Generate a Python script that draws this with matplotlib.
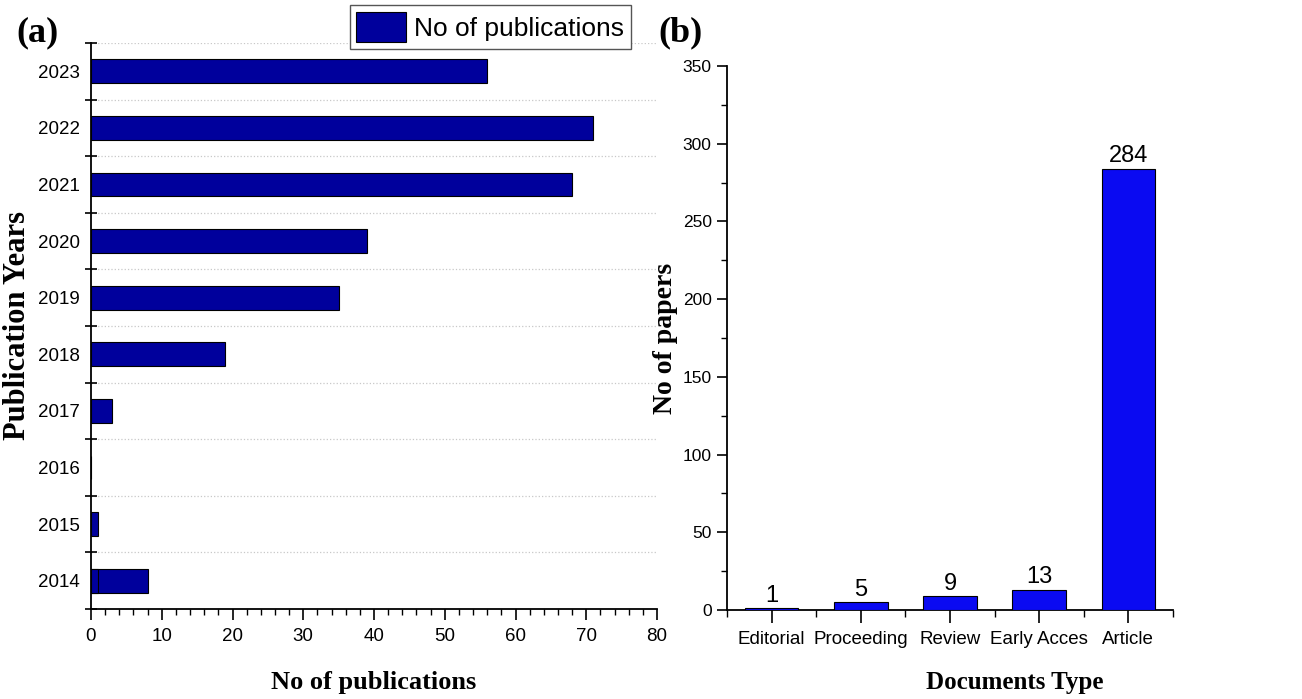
"""Two-panel bibliometric chart: (a) publications per year, (b) documents by type."""
import matplotlib
matplotlib.use("Agg")
import numpy as np
import matplotlib.pyplot as plt
from matplotlib.ticker import MultipleLocator

plt.rcParams["font.family"] = ["Liberation Sans", "DejaVu Sans"]

# ===== data =====
years = ["2014", "2015", "2016", "2017", "2018", "2019", "2020", "2021", "2022", "2023"]
pubs = [8, 1, 0, 3, 19, 35, 39, 68, 71, 56]
pubs_2014_overlay = 1  # a second thin bar edge drawn inside the 2014 bar

doc_types = ["Editorial", "Proceeding", "Review", "Early Acces", "Article"]
doc_counts = [1, 5, 9, 13, 284]

NAVY = "#00009C"
BLUE = "#0A0AF2"
SERIF = ["Liberation Serif", "DejaVu Serif"]
TICK_FS = 13.5

fig = plt.figure(figsize=(13.02, 6.99), dpi=100)
ax1 = fig.add_axes([91 / 1302, 1 - 609 / 699, 566 / 1302, 566 / 699])
ax2 = fig.add_axes([727 / 1302, 1 - 610 / 699, 446 / 1302, 544 / 699])

# ===== (a) 横向柱状图 =====
ypos = np.arange(len(years))
ax1.barh(ypos, pubs, height=0.42, color=NAVY, edgecolor="black", linewidth=0.8,
         label="No of publications", zorder=3)
ax1.barh(ypos[0], pubs_2014_overlay, height=0.42, color=NAVY, edgecolor="black",
         linewidth=0.8, zorder=3)
ax1.set_ylim(-0.5, len(years) - 0.5)
ax1.set_xlim(0, 80)
ax1.set_yticks(ypos)
ax1.set_yticklabels(years)
ax1.set_yticks(np.arange(-0.5, len(years), 1), minor=True)
ax1.tick_params(axis="y", which="major", length=0, pad=8, labelsize=TICK_FS)
ax1.tick_params(axis="y", which="minor", direction="inout", length=8, width=1.2)
ax1.grid(axis="y", which="minor", linestyle=":", color="#c8c8c8", linewidth=0.9, zorder=0)
ax1.xaxis.set_major_locator(MultipleLocator(10))
ax1.xaxis.set_minor_locator(MultipleLocator(2))
ax1.tick_params(axis="x", which="major", length=8, width=1.2, labelsize=TICK_FS, pad=6)
ax1.tick_params(axis="x", which="minor", length=4, width=1.0)
for s in ["top", "right"]:
    ax1.spines[s].set_visible(False)
for s in ["left", "bottom"]:
    ax1.spines[s].set_linewidth(1.3)
ax1.set_xlabel("No of publications", family=SERIF, fontweight="bold", fontsize=19)
ax1.xaxis.set_label_coords(0.5, -0.11)
ax1.set_ylabel("Publication Years", family=SERIF, fontweight="bold", fontsize=22)
ax1.yaxis.set_label_coords(-0.104, 0.5)

fig.legend(loc="upper right", bbox_to_anchor=(631 / 1302, 1 - 5 / 699), fontsize=19,
           frameon=True, fancybox=False, edgecolor="#555555", framealpha=1,
           handlelength=1.9, handleheight=1.4, handletextpad=0.3, borderpad=0.25,
           borderaxespad=0)

# ===== (b) 竖向柱状图 =====
xpos = np.arange(len(doc_types))
ax2.bar(xpos, doc_counts, width=0.6, color=BLUE, edgecolor="black", linewidth=0.8, zorder=3)
for x, v in zip(xpos, doc_counts):
    ax2.annotate(str(v), (x, v), xytext=(0, 1), textcoords="offset points",
                 ha="center", va="bottom", fontsize=17)
ax2.set_xlim(-0.5, len(doc_types) - 0.5)
ax2.set_ylim(0, 350)
ax2.set_xticks(xpos)
ax2.set_xticklabels(doc_types)
ax2.set_xticks(np.arange(-0.5, len(doc_types), 1), minor=True)
ax2.tick_params(axis="x", which="major", length=9, width=1.2, labelsize=TICK_FS, pad=6)
ax2.tick_params(axis="x", which="minor", length=5, width=1.0)
ax2.yaxis.set_major_locator(MultipleLocator(50))
ax2.yaxis.set_minor_locator(MultipleLocator(25))
ax2.tick_params(axis="y", which="major", length=7, width=1.2, labelsize=12.5, pad=4)
ax2.tick_params(axis="y", which="minor", length=4, width=1.0)
for s in ["top", "right"]:
    ax2.spines[s].set_visible(False)
for s in ["left", "bottom"]:
    ax2.spines[s].set_linewidth(1.3)
ax2.set_xlabel("Documents Type", family=SERIF, fontweight="bold", fontsize=18)
ax2.xaxis.set_label_coords(0.645, -0.112)
ax2.set_ylabel("No of papers", family=SERIF, fontweight="bold", fontsize=20)
ax2.yaxis.set_label_coords(-0.11, 0.5)

# 面板编号
fig.text(37 / 1302, 1 - 33 / 699, "(a)", family=SERIF, fontweight="bold", fontsize=26,
         ha="center", va="center")
fig.text(681 / 1302, 1 - 33 / 699, "(b)", family=SERIF, fontweight="bold", fontsize=26,
         ha="center", va="center")

fig.savefig("out.png", dpi=100)
